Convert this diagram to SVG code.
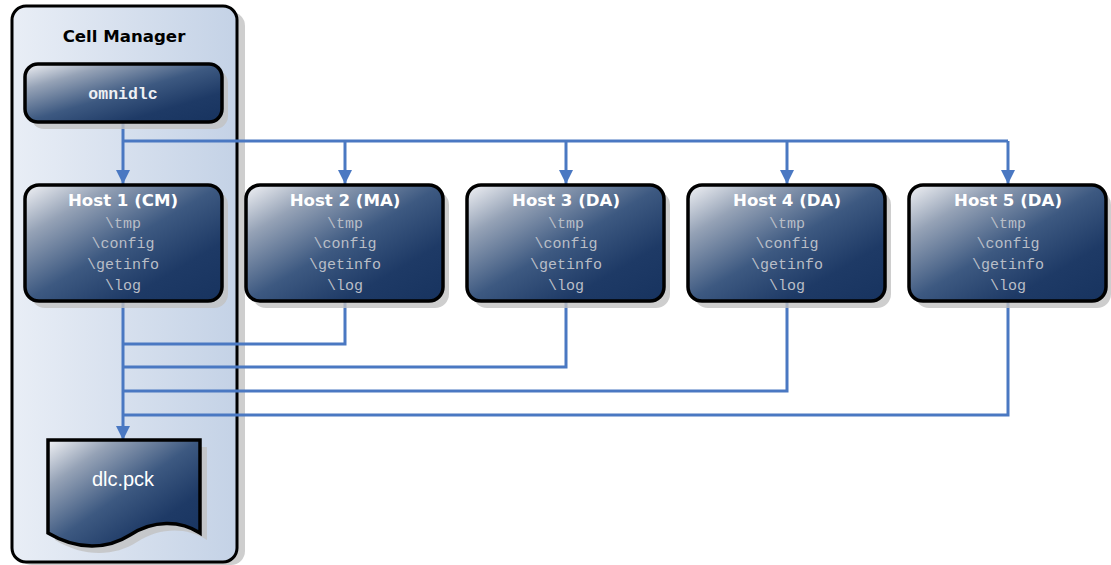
<svg xmlns="http://www.w3.org/2000/svg" width="1111" height="565" viewBox="0 0 1111 565">
  <style>
    .box { stroke: #000; stroke-width: 3.5; fill: url(#nodeFill); }
    .shadow { fill: #c2c2c2; opacity: 0.8; }
    .title { font-family: "DejaVu Sans", Verdana, sans-serif; font-weight: bold; font-size: 16.6px; fill: #ffffff; text-anchor: middle; }
    .dir { font-family: "Liberation Mono", "Courier New", monospace; font-size: 15px; fill: #b9bec7; text-anchor: middle; }
    .cmd { font-family: "Liberation Mono", "Courier New", monospace; font-weight: bold; font-size: 16.5px; fill: #eef0f4; text-anchor: middle; }
    .link { fill: none; stroke: #4a78c2; stroke-width: 3; }
  </style>
  <defs>
    <linearGradient id="nodeFill" x1="0" y1="0" x2="1" y2="1">
      <stop offset="0" stop-color="#f2f3f6"/>
      <stop offset="0.22" stop-color="#95a2b6"/>
      <stop offset="0.5" stop-color="#3d5981"/>
      <stop offset="0.75" stop-color="#1e3a66"/>
      <stop offset="1" stop-color="#17335f"/>
    </linearGradient>
    <linearGradient id="panelFill" x1="0" y1="0" x2="1" y2="0">
      <stop offset="0" stop-color="#e9eef6"/>
      <stop offset="1" stop-color="#c4d2e6"/>
    </linearGradient>
    <marker id="arrow" viewBox="0 0 10 10" refX="10" refY="5" markerWidth="4.8" markerHeight="4.8" markerUnits="strokeWidth" orient="auto">
      <path d="M0,0 L10,5 L0,10 Z" fill="#4a78c2"/>
    </marker>
  </defs>

  <!-- Cell Manager panel -->
  <g id="cell-manager">
    <rect x="18" y="12" width="227" height="553" rx="14" class="shadow"/>
    <rect x="12" y="6" width="225" height="556" rx="14" fill="url(#panelFill)" stroke="#000" stroke-width="3"/>
    <text x="124" y="42" class="title" style="fill:#000">Cell Manager</text>
  </g>

  <!-- connectors -->
  <g id="connectors">
    <path class="link" d="M123,122 V184" marker-end="url(#arrow)"/>
    <path class="link" d="M123,141 H1008"/>
    <path class="link" d="M345,141 V184" marker-end="url(#arrow)"/>
    <path class="link" d="M566,141 V184" marker-end="url(#arrow)"/>
    <path class="link" d="M787,141 V184" marker-end="url(#arrow)"/>
    <path class="link" d="M1008,141 V184" marker-end="url(#arrow)"/>
    <path class="link" d="M123,301 V440" marker-end="url(#arrow)"/>
    <path class="link" d="M345,301 V344 H123"/>
    <path class="link" d="M566,301 V367 H123"/>
    <path class="link" d="M787,301 V391 H123"/>
    <path class="link" d="M1008,301 V415 H123"/>
  </g>

  <g id="omnidlc">
    <rect x="31" y="70" width="197" height="59" rx="13" class="shadow"/>
    <rect x="25" y="64" width="197" height="58" rx="13" class="box"/>
    <text x="123" y="99" class="cmd">omnidlc</text>
  </g>

  <g id="host1">
    <rect x="31" y="191" width="197" height="117" rx="14" class="shadow"/>
    <rect x="25" y="185" width="197" height="116" rx="14" class="box"/>
    <text x="123" y="206" class="title">Host 1 (CM)</text>
    <text x="123" y="228" class="dir">\tmp</text>
    <text x="123" y="248" class="dir">\config</text>
    <text x="123" y="269" class="dir">\getinfo</text>
    <text x="123" y="290" class="dir">\log</text>
  </g>

  <g id="host2">
    <rect x="252" y="191" width="197" height="117" rx="14" class="shadow"/>
    <rect x="246" y="185" width="197" height="116" rx="14" class="box"/>
    <text x="345" y="206" class="title">Host 2 (MA)</text>
    <text x="345" y="228" class="dir">\tmp</text>
    <text x="345" y="248" class="dir">\config</text>
    <text x="345" y="269" class="dir">\getinfo</text>
    <text x="345" y="290" class="dir">\log</text>
  </g>

  <g id="host3">
    <rect x="473" y="191" width="197" height="117" rx="14" class="shadow"/>
    <rect x="467" y="185" width="197" height="116" rx="14" class="box"/>
    <text x="566" y="206" class="title">Host 3 (DA)</text>
    <text x="566" y="228" class="dir">\tmp</text>
    <text x="566" y="248" class="dir">\config</text>
    <text x="566" y="269" class="dir">\getinfo</text>
    <text x="566" y="290" class="dir">\log</text>
  </g>

  <g id="host4">
    <rect x="694" y="191" width="197" height="117" rx="14" class="shadow"/>
    <rect x="688" y="185" width="197" height="116" rx="14" class="box"/>
    <text x="787" y="206" class="title">Host 4 (DA)</text>
    <text x="787" y="228" class="dir">\tmp</text>
    <text x="787" y="248" class="dir">\config</text>
    <text x="787" y="269" class="dir">\getinfo</text>
    <text x="787" y="290" class="dir">\log</text>
  </g>

  <g id="host5">
    <rect x="915" y="191" width="196" height="117" rx="14" class="shadow"/>
    <rect x="909" y="185" width="197" height="116" rx="14" class="box"/>
    <text x="1008" y="206" class="title">Host 5 (DA)</text>
    <text x="1008" y="228" class="dir">\tmp</text>
    <text x="1008" y="248" class="dir">\config</text>
    <text x="1008" y="269" class="dir">\getinfo</text>
    <text x="1008" y="290" class="dir">\log</text>
  </g>

  <!-- output package (document shape) -->
  <g id="dlc-pck">
    <path class="shadow" d="M55,447 H207 V540 C187,527 160,527 137,542 C115,556 85,558 55,540 Z"/>
    <path class="box" d="M48,440 H200 V533 C180,520 153,520 130,535 C108,549 78,551 48,533 Z"/>
    <text x="123" y="486" font-family="Liberation Sans, Arial, sans-serif" font-size="20" fill="#ffffff" text-anchor="middle">dlc.pck</text>
  </g>
</svg>
